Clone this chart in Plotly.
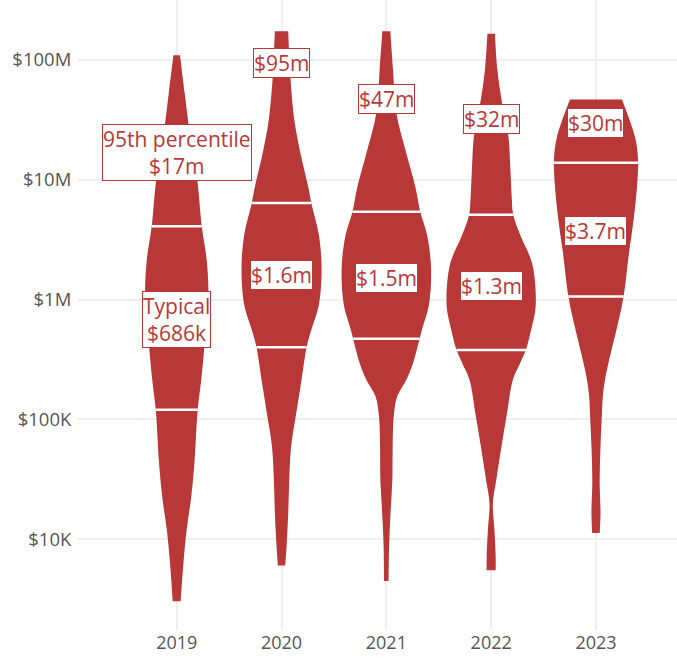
import numpy as np
import plotly.graph_objects as go

# ---- data ----
years = [2019, 2020, 2021, 2022, 2023]
year_labels = ["2019", "2020", "2021", "2022", "2023"]

# violin outlines: log10(dollars) levels and half-width of the density (in year units)
log_2019 = [8.04, 7.73, 7.42, 7.21, 7.00, 6.61, 6.33, 6.02, 5.64, 5.33, 5.08, 4.64, 4.35, 4.08, 3.80, 3.48]
wid_2019 = [0.031, 0.075, 0.119, 0.157, 0.196, 0.239, 0.286, 0.302, 0.267, 0.234, 0.200, 0.169, 0.138, 0.095, 0.064, 0.038]

log_2020 = [8.24, 8.07, 7.86, 7.50, 7.22, 6.94, 6.80, 6.53, 6.25, 5.95, 5.75, 5.61, 5.33, 5.05, 4.77, 4.49, 4.22, 3.94, 3.78]
wid_2020 = [0.064, 0.072, 0.084, 0.122, 0.181, 0.255, 0.286, 0.358, 0.382, 0.355, 0.285, 0.241, 0.191, 0.140, 0.091, 0.073, 0.064, 0.048, 0.035]

log_2021 = [8.24, 7.92, 7.56, 7.22, 6.94, 6.73, 6.53, 6.25, 5.95, 5.75, 5.47, 5.33, 5.19, 5.02, 4.77, 4.49, 4.22, 3.94, 3.65]
wid_2021 = [0.038, 0.064, 0.095, 0.191, 0.277, 0.324, 0.391, 0.427, 0.405, 0.340, 0.255, 0.191, 0.103, 0.070, 0.060, 0.057, 0.040, 0.026, 0.022]

log_2022 = [8.22, 7.92, 7.69, 7.50, 7.36, 7.08, 6.86, 6.71, 6.53, 6.30, 5.95, 5.75, 5.58, 5.47, 5.33, 5.05, 4.77, 4.49, 4.30, 4.08, 3.85, 3.74]
wid_2022 = [0.036, 0.059, 0.095, 0.135, 0.165, 0.184, 0.196, 0.210, 0.281, 0.391, 0.425, 0.382, 0.331, 0.277, 0.207, 0.151, 0.098, 0.048, 0.016, 0.031, 0.043, 0.043]

log_2023 = [7.67, 7.36, 7.17, 6.94, 6.66, 6.39, 6.02, 5.75, 5.47, 5.33, 5.19, 5.05, 4.77, 4.49, 4.22, 4.05]
wid_2023 = [0.248, 0.372, 0.401, 0.391, 0.358, 0.315, 0.262, 0.196, 0.119, 0.086, 0.065, 0.057, 0.043, 0.035, 0.043, 0.036]

profiles_log = [log_2019, log_2020, log_2021, log_2022, log_2023]
profiles_wid = [wid_2019, wid_2020, wid_2021, wid_2022, wid_2023]

q75 = [4.1e6, 6.4e6, 5.4e6, 5.1e6, 13.9e6]
q25 = [120e3, 400e3, 470e3, 380e3, 1.06e6]
typical = [686e3, 1.6e6, 1.5e6, 1.3e6, 3.7e6]
p95 = [17e6, 95e6, 47e6, 32e6, 30e6]
typical_text = ["Typical<br>$686k", "$1.6m", "$1.5m", "$1.3m", "$3.7m"]
p95_text = ["95th percentile<br>$17m", "$95m", "$47m", "$32m", "$30m"]

y_tickvals = [1e4, 1e5, 1e6, 1e7, 1e8]
y_ticktext = ["$10K", "$100K", "$1M", "$10M", "$100M"]

RED = "#b83737"
LABEL_FONT = "Open Sans"
TICK_FONT = "Open Sans"

fig = go.Figure()

for yr, lg, wd in zip(years, profiles_log, profiles_wid):
    lg = np.array(lg)
    wd = np.array(wd)
    # repeat end points so the spline keeps the flat, square-cornered caps
    lg_e = np.concatenate([lg[:1], lg, lg[-1:]])
    wd_e = np.concatenate([wd[:1], wd, wd[-1:]])
    xs = np.concatenate([yr + wd_e, (yr - wd_e)[::-1]])
    ys = np.concatenate([10 ** lg_e, (10 ** lg_e)[::-1]])
    fig.add_trace(go.Scatter(
        x=xs, y=ys, mode="lines", fill="toself", fillcolor=RED,
        line=dict(width=0, color=RED, shape="spline", smoothing=1.0),
        hoverinfo="skip", showlegend=False))

# quartile lines
for yr, lg, wd, a, b in zip(years, profiles_log, profiles_wid, q75, q25):
    lg_r = np.array(lg)[::-1]
    wd_r = np.array(wd)[::-1]
    for q in (a, b):
        w = float(np.interp(np.log10(q), lg_r, wd_r))
        fig.add_trace(go.Scatter(
            x=[yr - w, yr + w], y=[q, q], mode="lines",
            line=dict(color="white", width=2.5),
            hoverinfo="skip", showlegend=False))

anns = []
for yr, v, t in list(zip(years, typical, typical_text)) + list(zip(years, p95, p95_text)):
    anns.append(dict(
        x=yr, y=np.log10(v), text=t, showarrow=False,
        font=dict(family=LABEL_FONT, size=21, color=RED),
        bgcolor="white", bordercolor=RED, borderwidth=1, borderpad=0))

fig.update_layout(
    width=677, height=658,
    margin=dict(l=78, r=0, t=0, b=28, autoexpand=False),
    paper_bgcolor="white", plot_bgcolor="white",
    annotations=anns,
    font=dict(family=TICK_FONT, color="#555555", size=18),
    xaxis=dict(range=[2018.058, 2023.773], tickvals=years, ticktext=year_labels,
               showgrid=True, gridcolor="#efefef", gridwidth=1.5, zeroline=False,
               showline=False, ticks="",
               automargin=False, tickfont=dict(size=18, color="#555555")),
    yaxis=dict(type="log", range=[3.241, 8.501], tickvals=y_tickvals, ticktext=y_ticktext,
               showgrid=True, gridcolor="#efefef", gridwidth=1.5, zeroline=False,
               showline=False, ticks="outside", ticklen=2, tickcolor="rgba(0,0,0,0)",
               automargin=False, tickfont=dict(size=18.5, color="#555555")),
)

fig.write_html("out.html")
